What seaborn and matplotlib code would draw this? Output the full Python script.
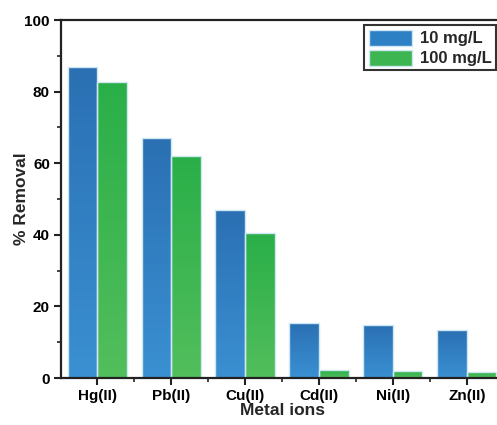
import numpy as np
import pandas as pd
import matplotlib.pyplot as plt
import seaborn as sns
from matplotlib.ticker import MultipleLocator, FixedLocator
from matplotlib.colors import LinearSegmentedColormap

metals = ['Hg(II)', 'Pb(II)', 'Cu(II)', 'Cd(II)', 'Ni(II)', 'Zn(II)']
removal_10 = [86.9, 67.0, 46.9, 15.4, 14.8, 13.4]
removal_100 = [82.7, 62.0, 40.5, 2.2, 2.0, 1.7]
series = ['10 mg/L', '100 mg/L']

df = pd.DataFrame({
    'metal': metals * 2,
    'removal': removal_10 + removal_100,
    'conc': [series[0]] * len(metals) + [series[1]] * len(metals),
})

sns.set_style('ticks')
plt.rcParams['font.family'] = ['Liberation Sans', 'DejaVu Sans']
plt.rcParams['font.weight'] = 'bold'
plt.rcParams['xtick.major.size'] = 5
plt.rcParams['xtick.minor.size'] = 3
plt.rcParams['ytick.major.size'] = 5
plt.rcParams['ytick.minor.size'] = 3
plt.rcParams['xtick.major.width'] = 1.5
plt.rcParams['ytick.major.width'] = 1.5
plt.rcParams['xtick.minor.width'] = 1.2
plt.rcParams['ytick.minor.width'] = 1.2

fig = plt.figure(figsize=(4.97, 4.25), dpi=100)
ax = fig.add_axes([61 / 497, 47 / 425, 442 / 497, 358 / 425])

sns.barplot(data=df, x='metal', y='removal', hue='conc', ax=ax,
            palette=['#2e80c4', '#3db652'], width=0.8, saturation=1,
            edgecolor='#cfe6f5', linewidth=1.0)

# vertical gradient inside each bar, light outline kept on top
grads = {
    series[0]: LinearSegmentedColormap.from_list('b', ['#3a90d2', '#2a70b3']),
    series[1]: LinearSegmentedColormap.from_list('g', ['#52be5c', '#2aaf48']),
}
n = len(metals)
for i, p in enumerate(ax.patches[:2 * n]):
    cmap = grads[series[i // n]]
    x0, y0 = p.get_x(), p.get_y()
    w, h = p.get_width(), p.get_height()
    im = ax.imshow(np.linspace(0, 1, 100).reshape(-1, 1), cmap=cmap,
                   extent=[x0, x0 + w, y0, y0 + h], origin='lower',
                   aspect='auto', zorder=1)
    im.set_clip_path(p)
    p.set_facecolor('none')
    p.set_zorder(2)

ax.set_xlim(-0.49, 5.49)
ax.set_ylim(0, 100)
ax.yaxis.set_major_locator(MultipleLocator(20))
ax.yaxis.set_minor_locator(MultipleLocator(10))
ax.xaxis.set_minor_locator(FixedLocator(np.arange(0.5, 5.5, 1)))
ax.tick_params(axis='both', which='both', direction='out', color='#222222')
ax.tick_params(axis='both', which='major', labelsize=11, labelcolor='black', pad=3)
for lab in ax.get_xticklabels() + ax.get_yticklabels():
    lab.set_fontweight('bold')

for s in ax.spines.values():
    s.set_linewidth(1.6)
    s.set_color('#222222')

ax.set_xlabel('Metal ions', fontsize=12.5, fontweight='bold', labelpad=0)
ax.set_ylabel('% Removal', fontsize=12.5, fontweight='bold', labelpad=-3)

leg = ax.legend(loc='upper right', bbox_to_anchor=(0.985, 0.985), fontsize=12,
                frameon=True, fancybox=False, edgecolor='black',
                handlelength=2.6, handleheight=1.1, handletextpad=0.5,
                borderpad=0.25, labelspacing=0.2, borderaxespad=0)
leg.get_frame().set_linewidth(1.5)
for t in leg.get_texts():
    t.set_fontweight('bold')

fig.savefig('out.png', dpi=100)
